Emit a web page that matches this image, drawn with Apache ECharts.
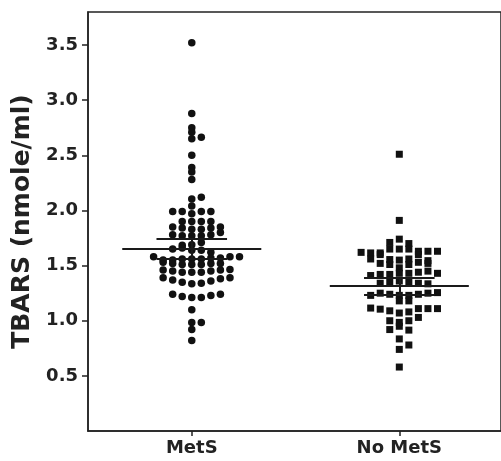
<!DOCTYPE html>
<html>
<head>
<meta charset="utf-8">
<script src="https://cdn.jsdelivr.net/npm/echarts@6/dist/echarts.min.js"></script>
<style>
  html, body { margin: 0; padding: 0; background: #fff; }
  #chart { width: 501px; height: 461px; }
</style>
</head>
<body>
<div id="chart"></div>
<script>
// groups on the x axis
const groups = ['MetS', 'No MetS'];

// TBARS values (nmole/ml)
const metsValues = [
  3.52, 2.88, 2.75, 2.71, 2.665, 2.65, 2.50, 2.39, 2.35, 2.28,
  2.105, 2.12, 2.04,
  1.97, 1.99, 1.99, 1.99, 1.99,
  1.90, 1.90, 1.90, 1.90,
  1.83, 1.83, 1.84, 1.84, 1.85, 1.85,
  1.77, 1.77, 1.77, 1.78, 1.78, 1.80,
  1.69, 1.71, 1.685,
  1.64, 1.64, 1.66, 1.62, 1.65,
  1.56, 1.56, 1.56, 1.57, 1.55, 1.57, 1.55, 1.58, 1.58, 1.58,
  1.51, 1.51, 1.51, 1.52, 1.52, 1.52, 1.53,
  1.44, 1.44, 1.44, 1.45, 1.45, 1.46, 1.46, 1.465,
  1.335, 1.34, 1.35, 1.36, 1.37, 1.38, 1.39, 1.39,
  1.21, 1.21, 1.22, 1.23, 1.24, 1.24,
  1.10, 0.985, 0.985, 0.92, 0.82
];
const noMetsValues = [
  2.51, 1.91,
  1.74, 1.70, 1.71,
  1.65, 1.65, 1.65, 1.63, 1.615, 1.63, 1.615, 1.63, 1.62,
  1.55, 1.56, 1.555, 1.60, 1.60, 1.545, 1.56,
  1.48, 1.51, 1.51, 1.53, 1.52, 1.52,
  1.43, 1.43, 1.42, 1.44, 1.42, 1.45, 1.41, 1.43,
  1.36, 1.35, 1.35, 1.34, 1.34, 1.335,
  1.23, 1.23, 1.24, 1.24, 1.25, 1.25, 1.23, 1.255,
  1.18, 1.18,
  1.07, 1.08, 1.09, 1.11, 1.105, 1.11, 1.115, 1.11,
  0.985, 1.00, 1.00, 1.03,
  0.95, 0.915, 0.92,
  0.835, 0.78, 0.74, 0.58
];

// mean and SEM of each group
const groupMeans = [1.65, 1.315];
const groupSems = [0.09, 0.078];

const yTicks = [0.5, 1.0, 1.5, 2.0, 2.5, 3.0, 3.5];

// Prism style scatter: bin values into rows, spread each row sideways
const BIN = 0.07;
const STEP = 0.046;
function swarm(values, center) {
  const rows = {};
  return values.map(function (v) {
    const k = Math.floor(v / BIN);
    const i = rows[k] = (rows[k] === undefined ? 0 : rows[k] + 1);
    const col = i === 0 ? 0 : (i % 2 ? (i + 1) / 2 : -i / 2);
    return [center + col * STEP, v];
  });
}

const barLines = [];
groupMeans.forEach(function (m, g) {
  const s = groupSems[g];
  barLines.push({ coords: [[g - 0.335, m], [g + 0.335, m]] });
  barLines.push({ coords: [[g - 0.17, m + s], [g + 0.17, m + s]] });
  barLines.push({ coords: [[g - 0.17, m - s], [g + 0.17, m - s]] });
  barLines.push({ coords: [[g, m - s], [g, m + s]] });
});

const font = 'DejaVu Sans';
const chart = echarts.init(document.getElementById('chart'), null, { renderer: 'canvas' });
chart.setOption({
  animation: false,
  grid: {
    left: 88, right: -2, top: 12, bottom: 30,
    show: true, borderColor: '#222', borderWidth: 1.5, backgroundColor: 'transparent'
  },
  xAxis: {
    type: 'value',
    min: -0.5,
    max: 1.49,
    splitLine: { show: false },
    axisLine: { show: true, onZero: false, lineStyle: { color: '#222', width: 1.5 } },
    axisTick: { show: true, customValues: [0, 1], length: 5, lineStyle: { color: '#222', width: 1.5 } },
    axisLabel: {
      customValues: [0, 1],
      formatter: function (v) { return groups[Math.round(v)]; },
      margin: 8,
      color: '#222', fontFamily: font, fontWeight: 'bold', fontSize: 18
    }
  },
  yAxis: {
    type: 'value',
    min: 0,
    max: 3.8,
    name: 'TBARS (nmole/ml)',
    nameLocation: 'middle',
    nameGap: 52,
    nameTextStyle: { color: '#222', fontFamily: font, fontWeight: 'bold', fontSize: 25 },
    splitLine: { show: false },
    axisLine: { show: true, onZero: false, lineStyle: { color: '#222', width: 1.5 } },
    axisTick: { show: true, customValues: yTicks, length: 6, lineStyle: { color: '#222', width: 1.5 } },
    axisLabel: {
      customValues: yTicks,
      formatter: function (v) { return v.toFixed(1); },
      margin: 10,
      color: '#222', fontFamily: font, fontWeight: 'bold', fontSize: 18
    }
  },
  series: [
    {
      name: groups[0],
      type: 'scatter',
      symbol: 'circle',
      symbolSize: 7.5,
      itemStyle: { color: '#111', opacity: 1 },
      data: swarm(metsValues, 0)
    },
    {
      name: groups[1],
      type: 'scatter',
      symbol: 'rect',
      symbolSize: 7,
      itemStyle: { color: '#111', opacity: 1 },
      data: swarm(noMetsValues, 1)
    },
    {
      type: 'lines',
      coordinateSystem: 'cartesian2d',
      silent: true,
      z: 3,
      lineStyle: { color: '#1a1a1a', width: 2, opacity: 1 },
      data: barLines
    }
  ]
});
</script>
</body>
</html>
